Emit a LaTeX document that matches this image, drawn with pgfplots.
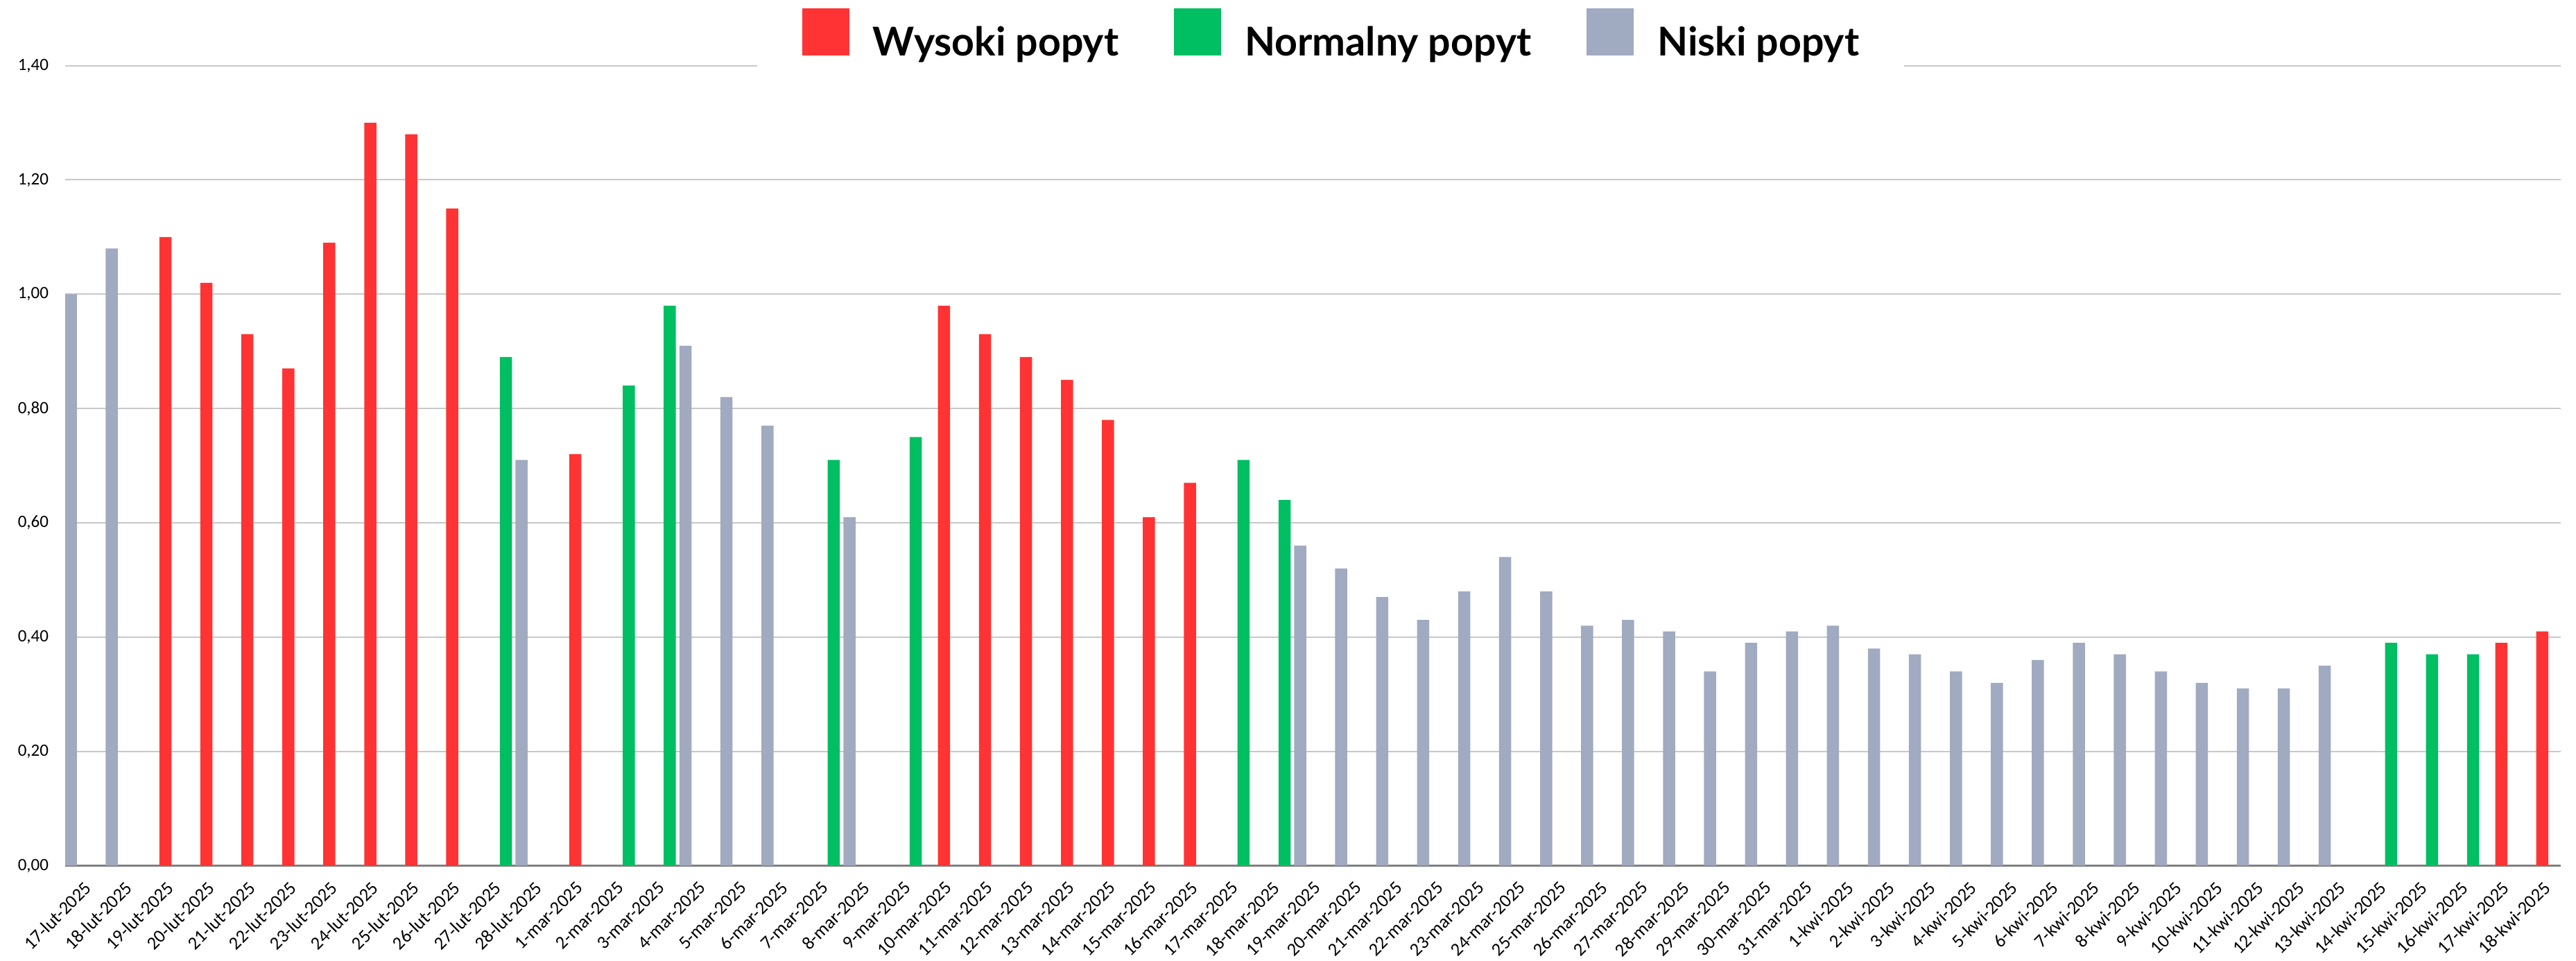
\documentclass[border=0pt]{standalone}
\usepackage{fontspec}
\setmainfont{Carlito}
\newfontfamily\legfont{Lato}
\usepackage{pgfplots}
\pgfplotsset{compat=1.18}
\definecolor{cRed}{RGB}{255,51,51}
\definecolor{cGreen}{RGB}{0,190,98}
\definecolor{cGrey}{RGB}{160,170,192}
\definecolor{cGrid}{RGB}{200,200,200}
\definecolor{cAxis}{RGB}{128,128,128}
\begin{document}
\begin{tikzpicture}
\useasboundingbox (0,0) rectangle (743pt,277.2pt);
\begin{axis}[
  at={(18.8pt,27.5pt)}, anchor=south west,
  scale only axis, width=719.8pt, height=230.76pt,
  ybar, bar width=0.296,
  xmin=-0.445, xmax=60.45, ymin=0, ymax=1.4,
  enlargelimits=false,
  ytick={0.2,0.4,0.6,0.8,1.0,1.2,1.4},
  extra y ticks={0},
  extra y tick style={grid style={draw=cAxis, line width=0.5pt}},
  ymajorgrids, grid style={draw=cGrid, line width=0.4pt},
  axis line style={draw=none},
  major tick length=0pt,
  xtick={0,...,60},
  xticklabels={17-lut-2025,18-lut-2025,19-lut-2025,20-lut-2025,21-lut-2025,22-lut-2025,23-lut-2025,24-lut-2025,25-lut-2025,26-lut-2025,27-lut-2025,28-lut-2025,
  1-mar-2025,2-mar-2025,3-mar-2025,4-mar-2025,5-mar-2025,6-mar-2025,7-mar-2025,8-mar-2025,9-mar-2025,10-mar-2025,11-mar-2025,12-mar-2025,13-mar-2025,14-mar-2025,15-mar-2025,16-mar-2025,17-mar-2025,18-mar-2025,19-mar-2025,20-mar-2025,21-mar-2025,22-mar-2025,23-mar-2025,24-mar-2025,25-mar-2025,26-mar-2025,27-mar-2025,28-mar-2025,29-mar-2025,30-mar-2025,31-mar-2025,
  1-kwi-2025,2-kwi-2025,3-kwi-2025,4-kwi-2025,5-kwi-2025,6-kwi-2025,7-kwi-2025,8-kwi-2025,9-kwi-2025,10-kwi-2025,11-kwi-2025,12-kwi-2025,13-kwi-2025,14-kwi-2025,15-kwi-2025,16-kwi-2025,17-kwi-2025,18-kwi-2025},
  tick label style={text=black},
  yticklabel style={font=\fontsize{5}{6}\selectfont, anchor=east, inner sep=0pt, xshift=-4.6pt},
  xticklabel style={font=\fontsize{5.3}{6.3}\selectfont, yshift=-4pt, rotate=45, anchor=north east, inner sep=0pt},
  /pgf/number format/.cd, fixed, fixed zerofill, precision=2, use comma, assume math mode=true, /pgfplots/.cd,
  legend columns=3,
  legend style={
    at={(0.2770,1.0728)}, anchor=north west,
    draw=none, fill=white,
    inner xsep=13pt, inner ysep=0pt,
    font=\legfont\bfseries\fontsize{11.45}{13.5}\selectfont,
    nodes={inner sep=0pt},
    /tikz/every odd column/.append style={column sep=6.8pt},
    /tikz/every even column/.append style={column sep=16pt},
  },
  legend image code/.code={\fill[#1] (0pt,-3.52pt) rectangle (13.6pt,10.2pt); \path (0pt,-8pt);},
]
\addplot[fill=cRed, draw=none, bar shift=0] coordinates {
(2,1.10) (3,1.02) (4,0.93) (5,0.87) (6,1.09) (7,1.30) (8,1.28) (9,1.15) (12,0.72)
(21,0.98) (22,0.93) (23,0.89) (24,0.85) (25,0.78) (26,0.61) (27,0.67) (59,0.39) (60,0.41)};
\addlegendentry{Wysoki popyt}
\addplot[fill=cGreen, draw=none, bar shift=0.3088] coordinates {
(10,0.89) (13,0.84) (14,0.98) (18,0.71) (20,0.75) (28,0.71) (29,0.64) (56,0.39) (57,0.37) (58,0.37)};
\addlegendentry{Normalny popyt}
\addplot[fill=cGrey, draw=none, bar shift=-0.3088] coordinates {
(0,1.00) (1,1.08) (11,0.71) (15,0.91) (16,0.82) (17,0.77) (19,0.61) (30,0.56) (31,0.52) (32,0.47)
(33,0.43) (34,0.48) (35,0.54) (36,0.48) (37,0.42) (38,0.43) (39,0.41) (40,0.34) (41,0.39) (42,0.41)
(43,0.42) (44,0.38) (45,0.37) (46,0.34) (47,0.32) (48,0.36) (49,0.39) (50,0.37) (51,0.34) (52,0.32)
(53,0.31) (54,0.31) (55,0.35)};
\addlegendentry{Niski popyt}
\end{axis}
\end{tikzpicture}
\end{document}
